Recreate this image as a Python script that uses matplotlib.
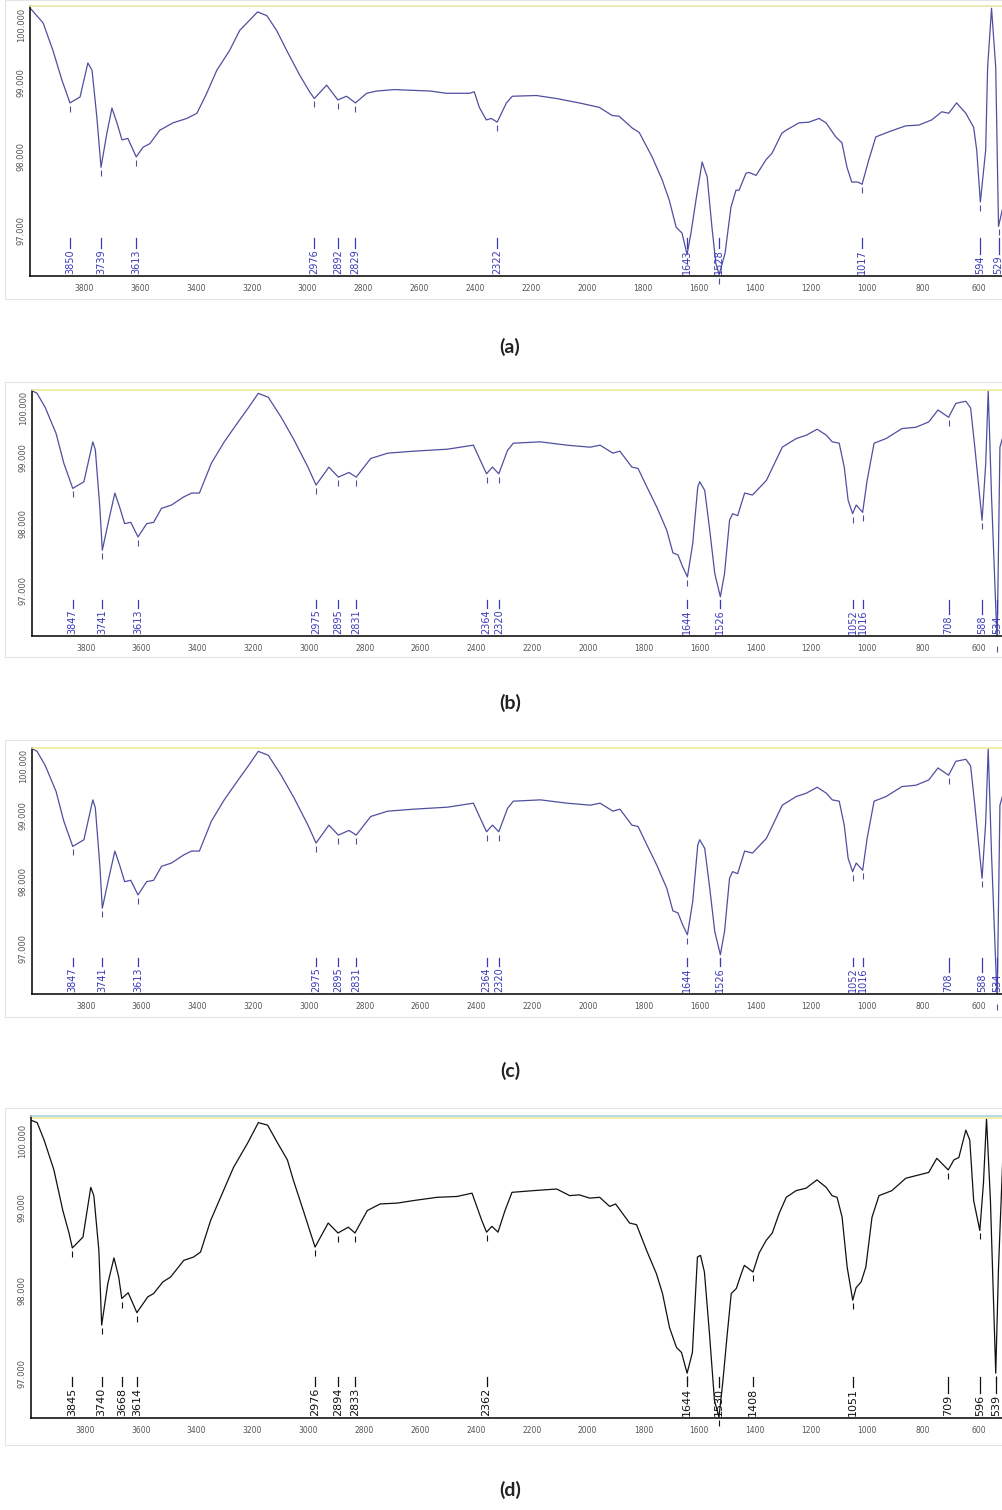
import numpy as np
import matplotlib
matplotlib.use("Agg")
import matplotlib.pyplot as plt
from matplotlib import transforms, font_manager
from matplotlib.patches import Rectangle

# ----------------------------------------------------------------------------------------------------------------------
#  DATA  (wavenumber in cm-1, transmittance in %T)
# ----------------------------------------------------------------------------------------------------------------------
wn_a = [3993, 3985, 3946, 3911, 3879, 3850, 3814, 3786, 3771, 3754, 3739, 3718, 3700, 3682, 3664, 3643,
        3613, 3589, 3564, 3529, 3482, 3432, 3396, 3361, 3325, 3279, 3243, 3207, 3179, 3146, 3111, 3075,
        3029, 2993, 2976, 2932, 2892, 2861, 2829, 2789, 2754, 2690, 2625, 2560, 2504, 2421, 2404, 2386,
        2361, 2343, 2322, 2289, 2268, 2182, 2111, 2029, 1957, 1911, 1886, 1839, 1814, 1768, 1732, 1707,
        1682, 1661, 1643, 1629, 1611, 1589, 1571, 1554, 1540, 1528, 1507, 1486, 1468, 1457, 1432, 1421,
        1396, 1361, 1339, 1304, 1289, 1243, 1207, 1171, 1146, 1111, 1089, 1071, 1054, 1032, 1017, 993,
        968, 921, 861, 814, 768, 732, 707, 679, 646, 618, 607, 594, 575, 568, 554, 539, 533, 529, 514]
t_a = [100.00, 99.97, 99.80, 99.43, 99.03, 98.72, 98.80, 99.26, 99.16, 98.53, 97.85, 98.31, 98.65, 98.45,
       98.22, 98.24, 97.99, 98.12, 98.17, 98.35, 98.45, 98.51, 98.58, 98.85, 99.16, 99.43, 99.70, 99.84,
       99.95, 99.90, 99.70, 99.43, 99.10, 98.87, 98.78, 98.96, 98.76, 98.81, 98.72, 98.85, 98.88, 98.90,
       98.89, 98.88, 98.85, 98.85, 98.87, 98.66, 98.49, 98.51, 98.46, 98.72, 98.81, 98.82, 98.78, 98.72,
       98.66, 98.55, 98.54, 98.38, 98.32, 97.99, 97.68, 97.41, 97.04, 96.96, 96.67, 96.96, 97.41, 97.92,
       97.72, 97.04, 96.55, 96.40, 96.69, 97.31, 97.54, 97.54, 97.77, 97.78, 97.74, 97.95, 98.04, 98.31,
       98.35, 98.45, 98.46, 98.51, 98.45, 98.26, 98.18, 97.85, 97.65, 97.65, 97.62, 97.95, 98.26, 98.33,
       98.41, 98.42, 98.49, 98.60, 98.58, 98.72, 98.58, 98.39, 98.08, 97.38, 98.08, 99.20, 100.00, 99.20,
       97.90, 97.05, 97.30]
peaks_a = [3850, 3739, 3613, 2976, 2892, 2829, 2322, 1643, 1528, 1017, 594, 529]

wn_b = [3993, 3975, 3946, 3907, 3879, 3847, 3807, 3775, 3766, 3750, 3741, 3718, 3696, 3679, 3661, 3639,
        3613, 3582, 3557, 3529, 3493, 3450, 3421, 3393, 3350, 3304, 3254, 3218, 3182, 3146, 3100, 3054,
        3004, 2975, 2929, 2895, 2857, 2831, 2779, 2718, 2625, 2504, 2411, 2386, 2364, 2343, 2320, 2289,
        2268, 2171, 2075, 1993, 1957, 1911, 1886, 1843, 1821, 1789, 1754, 1718, 1696, 1678, 1661, 1644,
        1625, 1607, 1600, 1582, 1564, 1546, 1526, 1511, 1493, 1482, 1464, 1439, 1411, 1361, 1304, 1254,
        1218, 1179, 1146, 1125, 1100, 1082, 1068, 1052, 1039, 1016, 1000, 975, 932, 875, 825, 779, 746,
        708, 682, 646, 629, 614, 588, 575, 566, 554, 534, 524, 514]
t_b = [100.00, 99.96, 99.75, 99.36, 98.91, 98.53, 98.63, 99.23, 99.11, 98.25, 97.60, 98.05, 98.46, 98.25,
       98.00, 98.02, 97.80, 98.00, 98.02, 98.23, 98.28, 98.40, 98.46, 98.46, 98.91, 99.23, 99.53, 99.74,
       99.96, 99.90, 99.60, 99.26, 98.85, 98.58, 98.85, 98.70, 98.77, 98.70, 98.98, 99.06, 99.09, 99.12,
       99.18, 98.95, 98.75, 98.85, 98.75, 99.10, 99.21, 99.23, 99.18, 99.15, 99.18, 99.06, 99.09, 98.85,
       98.83, 98.55, 98.25, 97.90, 97.56, 97.53, 97.35, 97.20, 97.70, 98.55, 98.63, 98.50, 97.90, 97.25,
       96.90, 97.25, 98.05, 98.15, 98.12, 98.46, 98.43, 98.65, 99.15, 99.28, 99.33, 99.42, 99.33, 99.23,
       99.21, 98.85, 98.35, 98.15, 98.28, 98.17, 98.65, 99.21, 99.28, 99.43, 99.45, 99.53, 99.71, 99.60,
       99.81, 99.84, 99.74, 99.15, 98.05, 98.90, 100.00, 98.40, 96.20, 99.15, 99.30]
peaks_b = [3847, 3741, 3613, 2975, 2895, 2831, 2364, 2320, 1644, 1526, 1052, 1016, 708, 588, 534]

# spectrum (c) is drawn the same as (b) in the picture
wn_c = list(wn_b)
t_c = list(t_b)
peaks_c = list(peaks_b)

wn_d = [3993, 3971, 3946, 3911, 3879, 3857, 3845, 3807, 3779, 3768, 3750, 3740, 3718, 3696, 3679, 3668,
        3645, 3614, 3575, 3554, 3521, 3493, 3446, 3411, 3386, 3350, 3304, 3268, 3218, 3179, 3146, 3111,
        3075, 3054, 3018, 2976, 2929, 2894, 2857, 2833, 2789, 2743, 2682, 2625, 2539, 2468, 2414, 2379,
        2362, 2343, 2321, 2296, 2271, 2196, 2111, 2064, 2030, 1993, 1957, 1921, 1900, 1850, 1825, 1789,
        1754, 1732, 1707, 1682, 1664, 1644, 1625, 1607, 1596, 1582, 1564, 1546, 1530, 1516, 1500, 1486,
        1468, 1450, 1439, 1408, 1386, 1361, 1339, 1314, 1289, 1254, 1218, 1179, 1146, 1125, 1107, 1089,
        1071, 1051, 1039, 1021, 1004, 982, 957, 911, 861, 814, 779, 750, 709, 689, 671, 646, 632, 618,
        596, 583, 572, 558, 539, 529, 514]
t_d = [100.05, 100.02, 99.81, 99.45, 98.96, 98.69, 98.51, 98.64, 99.24, 99.14, 98.48, 97.58, 98.08, 98.39,
       98.16, 97.90, 97.97, 97.73, 97.92, 97.96, 98.10, 98.16, 98.36, 98.40, 98.46, 98.84, 99.20, 99.48,
       99.77, 100.02, 99.99, 99.78, 99.57, 99.33, 98.96, 98.52, 98.81, 98.69, 98.76, 98.69, 98.96, 99.04,
       99.05, 99.08, 99.12, 99.13, 99.17, 98.84, 98.70, 98.77, 98.70, 98.96, 99.18, 99.20, 99.22, 99.14,
       99.15, 99.11, 99.12, 99.01, 99.04, 98.81, 98.79, 98.48, 98.20, 97.96, 97.55, 97.31, 97.25, 97.00,
       97.25, 98.40, 98.42, 98.22, 97.48, 96.67, 96.47, 96.90, 97.48, 97.96, 98.02, 98.20, 98.30, 98.22,
       98.45, 98.60, 98.69, 98.93, 99.12, 99.20, 99.23, 99.33, 99.24, 99.14, 99.12, 98.88, 98.28, 97.88,
       98.03, 98.10, 98.28, 98.88, 99.14, 99.20, 99.35, 99.39, 99.42, 99.59, 99.45, 99.57, 99.60, 99.93,
       99.81, 99.08, 98.72, 99.29, 100.07, 99.08, 97.00, 98.28, 99.57]
peaks_d = [3845, 3740, 3668, 3614, 2976, 2894, 2833, 2362, 1644, 1530, 1408, 1051, 709, 596, 539]

x_ticks = list(range(3800, 599, -200))
y_ticks = [97, 98, 99, 100]
captions = ["(a)", "(b)", "(c)", "(d)"]

# ----------------------------------------------------------------------------------------------------------------------
#  STYLE / LAYOUT
# ----------------------------------------------------------------------------------------------------------------------
W, H = 1003, 1510
installed = {f.name for f in font_manager.fontManager.ttflist}
narrow = "Liberation Sans Narrow" if "Liberation Sans Narrow" in installed else "DejaVu Sans"
cap_font = "Lato" if "Lato" in installed else "DejaVu Sans"

blue_line = "#4f4fa0"
blue_text = "#3a3ab8"

fig = plt.figure(figsize=(W / 100, H / 100), dpi=100)
renderer = fig.canvas.get_renderer()


def px_rect(left, top, bottom):
    return [left / W, 1 - bottom / H, (W - left) / W, (bottom - top) / H]


def draw_panel(box, frame, wn, t, ylim, peaks, line_color, text_color, line_top, label_size, top_color, caption,
               cap_y, double_top=False):
    # light frame of the software window
    fig.patches.append(Rectangle((frame[0] / W, 1 - frame[2] / H), (W - frame[0]) / W, (frame[2] - frame[1]) / H,
                                 transform=fig.transFigure, fill=False, edgecolor="#e4e4e4", linewidth=0.8))
    ax = fig.add_axes(px_rect(*box))
    ax.plot(wn, t, color=line_color, linewidth=0.9)
    ax.set_xlim(3993, 513)
    ax.set_ylim(*ylim)

    ax.set_xticks(x_ticks)
    ax.set_xticklabels([str(v) for v in x_ticks], fontsize=5.5, family=narrow, color="#555555")
    ax.set_yticks(y_ticks)
    ax.set_yticklabels(["%.3f" % v for v in y_ticks], fontsize=6, family=narrow, color="#555555",
                       rotation=90, va="center")
    ax.get_yticklabels()[-1].set_va("top")
    ax.tick_params(axis="x", length=0, pad=6)
    ax.tick_params(axis="y", length=0, pad=3)

    for side in ["left", "bottom"]:
        ax.spines[side].set_color("black")
        ax.spines[side].set_linewidth(1.1)
    ax.spines["right"].set_visible(False)
    ax.spines["top"].set_color(top_color)
    ax.spines["top"].set_linewidth(1.2)
    if double_top:
        below = transforms.offset_copy(ax.transAxes, fig=fig, y=-1.5, units="dots")
        ax.plot([0, 1], [1, 1], transform=below, color="#eeeaa0", linewidth=1.2, clip_on=False)

    # peak picks: short tick under the curve + labelled line above the axis
    h_px = box[2] - box[1]
    tick_tr = transforms.offset_copy(ax.transData, fig=fig, y=-6, units="dots")
    blend = transforms.blended_transform_factory(ax.transData, ax.transAxes)
    wn_rev = np.array(wn)[::-1]
    t_rev = np.array(t)[::-1]
    for p in peaks:
        y_min = np.interp(p, wn_rev, t_rev)
        ax.plot([p], [y_min], marker="|", markersize=4.5, markeredgewidth=0.8, color=line_color,
                transform=tick_tr, clip_on=False)
        txt = ax.text(p, 2.5 / h_px, str(p), transform=blend, rotation=90, ha="center", va="bottom",
                      fontsize=label_size, family=narrow, color=text_color)
        ext = txt.get_window_extent(renderer)
        bottom_frac = (2.5 + ext.height + 1) / h_px
        ax.plot([p, p], [bottom_frac, line_top / h_px], transform=blend, color=text_color, linewidth=0.9)

    fig.text(510 / W, 1 - cap_y / H, caption, ha="center", va="center", fontsize=14, fontweight="bold",
             family=cap_font, color="#222222")
    return ax


draw_panel((30, 6, 276), (5, 0, 299), wn_a, t_a, (96.38, 100.03), peaks_a, blue_line, blue_text, 38, 7,
           "#e8e8a8", captions[0], 347)
draw_panel((32, 390, 636), (5, 382, 657), wn_b, t_b, (96.31, 100.01), peaks_b, blue_line, blue_text, 36, 7,
           "#ecec9c", captions[1], 703)
draw_panel((32, 748, 994), (5, 740, 1017), wn_c, t_c, (96.31, 100.01), peaks_c, blue_line, blue_text, 36, 7,
           "#ecec9c", captions[2], 1071)
draw_panel((31, 1116, 1418), (5, 1108, 1445), wn_d, t_d, (96.46, 100.10), peaks_d, "#111111", "#111111", 41,
           8, "#a9d0e6", captions[3], 1490, double_top=True)

fig.savefig("out.png", dpi=100)
